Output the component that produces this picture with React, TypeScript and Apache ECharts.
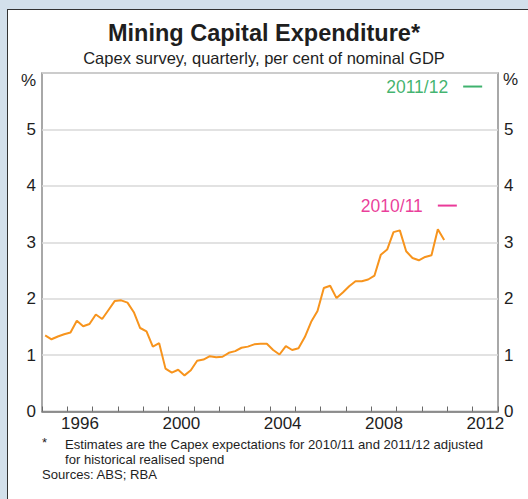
import React, { useEffect, useRef } from 'react';
import * as echarts from 'echarts';

// Year bands on the x axis (one band per calendar year)
const yearCategories = [
  '1995', '1996', '1997', '1998', '1999', '2000', '2001', '2002', '2003',
  '2004', '2005', '2006', '2007', '2008', '2009', '2010', '2011', '2012',
];
const shownYears = ['1996', '2000', '2004', '2008', '2012'];

// Quarterly mining capex, per cent of nominal GDP (March quarter 1995 to December quarter 2010)
const firstQuarter = 1995.125;
const capexValues = [
  1.35, 1.28, 1.33, 1.37, 1.40, 1.61, 1.51, 1.55, 1.72, 1.64,
  1.80, 1.96, 1.97, 1.93, 1.76, 1.48, 1.42, 1.15, 1.21, 0.76,
  0.69, 0.74, 0.64, 0.73, 0.90, 0.92, 0.98, 0.96, 0.97, 1.04,
  1.07, 1.13, 1.15, 1.19, 1.20, 1.20, 1.09, 1.01, 1.16, 1.09,
  1.12, 1.32, 1.59, 1.78, 2.19, 2.23, 2.01, 2.11, 2.22, 2.31,
  2.31, 2.34, 2.41, 2.78, 2.87, 3.18, 3.21, 2.84, 2.72, 2.68,
  2.74, 2.77, 3.23, 3.04,
];

// Capex estimates (centre of financial year, per cent of GDP)
const estimate1011 = { label: '2010/11', x: 2011.0, value: 3.65 };
const estimate1112 = { label: '2011/12', x: 2012.0, value: 5.76 };

const yMin = 0;
const yMax = 6;
const yStep = 1;

const FONT = 'Arial, "Liberation Sans", Helvetica, sans-serif';
const TEXT = '#1e1e1e';
const ORANGE = '#f7941d';
const PINK = '#e5097f';
const GREEN = '#0f9f4a';

export default function App() {
  const ref = useRef<HTMLDivElement>(null);

  useEffect(() => {
    if (!ref.current) return;
    const chart = echarts.init(ref.current, undefined, { renderer: 'svg' });

    const lineData = capexValues.map((v, i) => [firstQuarter + 0.25 * i, v]);
    const estimateSeries = (e: { label: string; x: number; value: number }, color: string) => ({
      type: 'scatter',
      xAxisIndex: 1,
      yAxisIndex: 0,
      symbol: 'rect',
      symbolSize: [19, 2],
      itemStyle: { color },
      data: [[e.x, e.value]],
      label: {
        show: true,
        position: 'left',
        distance: 15,
        formatter: e.label,
        color,
        fontSize: 17.5,
        fontFamily: FONT,
      },
      z: 4,
    });

    const yLabelFmt = (v: number) => (v === yMax ? '' : String(v));

    chart.setOption({
      animation: false,
      textStyle: { fontFamily: FONT },
      grid: {
        left: 42,
        right: 30,
        top: 73,
        bottom: 87.5,
        show: true,
        borderColor: '#8c8c8c',
        borderWidth: 1.5,
        backgroundColor: 'transparent',
      },
      xAxis: [
        {
          type: 'category',
          data: yearCategories,
          boundaryGap: true,
          position: 'bottom',
          axisLine: { lineStyle: { color: '#7a7a7a', width: 1.5 } },
          axisTick: {
            show: true,
            inside: true,
            length: 5,
            interval: 0,
            lineStyle: { color: '#6a6a6a', width: 1 },
          },
          axisLabel: {
            interval: (_i: number, v: string) => shownYears.includes(v),
            color: TEXT,
            fontSize: 17,
            fontFamily: FONT,
            margin: 3,
          },
          splitLine: { show: false },
        },
        {
          type: 'value',
          min: 1995,
          max: 2013,
          show: false,
        },
      ],
      yAxis: [
        {
          type: 'value',
          position: 'left',
          min: yMin,
          max: yMax,
          interval: yStep,
          axisLine: { show: false },
          axisTick: { show: false },
          axisLabel: { formatter: yLabelFmt, color: TEXT, fontSize: 17, fontFamily: FONT, margin: 6 },
          splitLine: { show: true, lineStyle: { color: '#d9d9d9', width: 1.5 } },
        },
        {
          type: 'value',
          position: 'right',
          min: yMin,
          max: yMax,
          interval: yStep,
          axisLine: { show: false },
          axisTick: { show: false },
          axisLabel: { formatter: yLabelFmt, color: TEXT, fontSize: 17, fontFamily: FONT, margin: 6 },
          splitLine: { show: false },
        },
      ],
      series: [
        {
          type: 'line',
          xAxisIndex: 1,
          yAxisIndex: 0,
          data: lineData,
          showSymbol: false,
          symbol: 'none',
          lineStyle: { color: ORANGE, width: 2 },
          z: 3,
        },
        estimateSeries(estimate1011, PINK),
        estimateSeries(estimate1112, GREEN),
      ],
      graphic: [
        {
          type: 'text',
          x: 264,
          y: 33,
          style: {
            text: 'Mining Capital Expenditure*',
            font: `bold 23.5px ${FONT}`,
            fill: TEXT,
            align: 'center',
            verticalAlign: 'middle',
          },
        },
        {
          type: 'text',
          x: 264,
          y: 58,
          style: {
            text: 'Capex survey, quarterly, per cent of nominal GDP',
            font: `16.5px ${FONT}`,
            fill: TEXT,
            align: 'center',
            verticalAlign: 'middle',
          },
        },
        {
          type: 'text',
          x: 36,
          y: 80,
          style: { text: '%', font: `17px ${FONT}`, fill: TEXT, align: 'right', verticalAlign: 'middle' },
        },
        {
          type: 'text',
          x: 503,
          y: 79,
          style: { text: '%', font: `17px ${FONT}`, fill: TEXT, align: 'left', verticalAlign: 'middle' },
        },
        {
          type: 'text',
          x: 42,
          y: 442,
          style: { text: '*', font: `13px ${FONT}`, fill: TEXT, align: 'left', verticalAlign: 'middle' },
        },
        {
          type: 'text',
          x: 65,
          y: 444,
          style: {
            text: 'Estimates are the Capex expectations for 2010/11 and 2011/12 adjusted',
            font: `13.1px ${FONT}`,
            fill: TEXT,
            align: 'left',
            verticalAlign: 'middle',
          },
        },
        {
          type: 'text',
          x: 65,
          y: 459,
          style: {
            text: 'for historical realised spend',
            font: `13.1px ${FONT}`,
            fill: TEXT,
            align: 'left',
            verticalAlign: 'middle',
          },
        },
        {
          type: 'text',
          x: 42,
          y: 474,
          style: {
            text: 'Sources: ABS; RBA',
            font: `13.1px ${FONT}`,
            fill: TEXT,
            align: 'left',
            verticalAlign: 'middle',
          },
        },
      ],
    });

    return () => chart.dispose();
  }, []);

  return (
    <div
      style={{
        position: 'fixed',
        left: 0,
        top: 0,
        width: 528,
        height: 499,
        background: '#d3e0eb',
        overflow: 'hidden',
      }}
    >
      <div
        style={{
          position: 'absolute',
          left: 7,
          top: 9,
          width: 560,
          height: 560,
          background: '#ffffff',
          border: '1.5px solid #333333',
          boxSizing: 'border-box',
        }}
      />
      <div ref={ref} style={{ position: 'absolute', left: 0, top: 0, width: 528, height: 499 }} />
    </div>
  );
}
